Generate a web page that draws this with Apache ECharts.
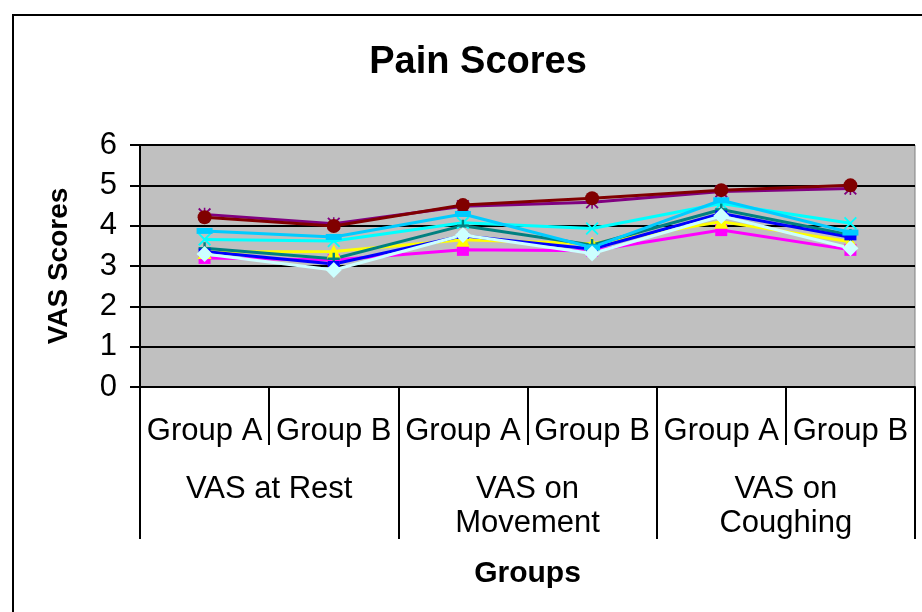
<!DOCTYPE html>
<html>
<head>
<meta charset="utf-8">
<script src="https://cdn.jsdelivr.net/npm/echarts@6/dist/echarts.min.js"></script>
<style>
html,body{margin:0;padding:0;background:#fff;}
#chart{width:922px;height:612px;}
</style>
</head>
<body>
<div id="chart"></div>
<script>
// ---- data ----
var groupLabels = ["Group A", "Group B", "Group A", "Group B", "Group A", "Group B"];
var mainLabels = ["VAS at Rest", "VAS on\nMovement", "VAS on\nCoughing"];
var yTicks = [0, 1, 2, 3, 4, 5, 6];

var seriesMagenta   = [3.20, 3.15, 3.40, 3.38, 3.89, 3.40];
var seriesYellow    = [3.35, 3.36, 3.65, 3.55, 4.10, 3.60];
var seriesCyan      = [3.66, 3.62, 4.07, 3.93, 4.55, 4.06];
var seriesPurple    = [4.28, 4.05, 4.48, 4.58, 4.85, 4.92];
var seriesDarkRed   = [4.21, 3.99, 4.51, 4.68, 4.88, 5.00];
var seriesTeal      = [3.44, 3.18, 4.00, 3.52, 4.40, 3.77];
var seriesBlue      = [3.36, 3.05, 3.75, 3.42, 4.30, 3.71];
var seriesSkyBlue   = [3.87, 3.72, 4.29, 3.46, 4.63, 3.83];
var seriesLightCyan = [3.30, 2.90, 3.77, 3.31, 4.24, 3.44];

var SYM_X = 'path://M0,1L1,0L5,4L9,0L10,1L6,5L10,9L9,10L5,6L1,10L0,9L4,5Z';
var SYM_PLUS = 'path://M4,0H6V4H10V6H6V10H4V6H0V4H4Z';
var SYM_STAR = 'path://M0,1L1,0L4.4,3.4V0H5.6V3.4L9,0L10,1L6.2,4.8V5.2L10,9L9,10L5.6,6.6V10H4.4V6.6L1,10L0,9L3.8,5.2V4.8Z';

function mk(name, data, color, symbol, size) {
  return {
    name: name, type: 'line', data: data, xAxisIndex: 0,
    symbol: symbol, symbolSize: size, showSymbol: true,
    lineStyle: { color: color, width: 3 },
    itemStyle: { color: color, borderWidth: 0 },
    emphasis: { disabled: true }
  };
}

var chart = echarts.init(document.getElementById('chart'), null, { renderer: 'canvas' });
chart.setOption({
  animation: false,
  backgroundColor: '#fff',
  title: {
    text: 'Pain Scores', left: 473, top: 39, textAlign: 'center',
    textStyle: { fontFamily: 'Liberation Sans', fontWeight: 'bold', fontSize: 38, color: '#000' }
  },
  graphic: [{
    type: 'rect', shape: { x: 13, y: 15, width: 1000, height: 700 },
    style: { fill: 'none', stroke: '#000', lineWidth: 2 }, silent: true, z: 100
  }],
  grid: {
    left: 140, right: 7, top: 145, bottom: 225,
    show: true, backgroundColor: '#C0C0C0', borderColor: '#808080', borderWidth: 1
  },
  xAxis: [{
    type: 'category', data: groupLabels, position: 'bottom', boundaryGap: true,
    axisLine: { show: true, lineStyle: { color: '#000', width: 2 } },
    axisTick: { show: true, interval: 0, length: 58, lineStyle: { color: '#000', width: 2 } },
    axisLabel: { interval: 0, margin: 29, fontFamily: 'Liberation Sans', fontSize: 31, color: '#000' },
    splitLine: { show: false }
  }, {
    type: 'category', data: mainLabels, position: 'bottom', boundaryGap: true,
    axisLine: { show: false },
    axisTick: { show: true, interval: 0, length: 152, lineStyle: { color: '#000', width: 2 } },
    axisLabel: { interval: 0, margin: 85, fontFamily: 'Liberation Sans', fontSize: 31, lineHeight: 34, color: '#000' },
    name: 'Groups', nameLocation: 'middle', nameGap: 172,
    nameTextStyle: { fontFamily: 'Liberation Sans', fontWeight: 'bold', fontSize: 30, color: '#000', verticalAlign: 'top' },
    splitLine: { show: false }
  }],
  yAxis: {
    type: 'value', min: 0, max: 6, interval: 1,
    name: 'VAS Scores', nameLocation: 'middle', nameGap: 67, nameRotate: 90,
    nameTextStyle: { fontFamily: 'Liberation Sans', fontWeight: 'bold', fontSize: 28, color: '#000' },
    axisLine: { show: true, lineStyle: { color: '#000', width: 2 } },
    axisTick: { show: true, length: 10, lineStyle: { color: '#000', width: 2 } },
    axisLabel: { margin: 23, fontFamily: 'Liberation Sans', fontSize: 31, color: '#000',
      formatter: function (v) { return yTicks.indexOf(v) >= 0 ? String(v) : ''; } },
    splitLine: { show: true, lineStyle: { color: '#000', width: 2 } }
  },
  series: [
    mk('Series 2', seriesMagenta, '#FF00FF', 'rect', 12),
    mk('Series 3', seriesYellow, '#FFFF00', 'triangle', 14),
    mk('Series 4', seriesCyan, '#00FFFF', SYM_X, 13),
    mk('Series 5', seriesPurple, '#800080', SYM_STAR, 13),
    mk('Series 6', seriesDarkRed, '#800000', 'circle', 14),
    mk('Series 7', seriesTeal, '#008080', SYM_PLUS, 12),
    mk('Series 8', seriesBlue, '#0000FF', 'rect', [12, 6]),
    mk('Series 9', seriesSkyBlue, '#00CCFF', 'rect', [16, 6]),
    mk('Series 10', seriesLightCyan, '#CCFFFF', 'diamond', 16)
  ]
});
</script>
</body>
</html>
